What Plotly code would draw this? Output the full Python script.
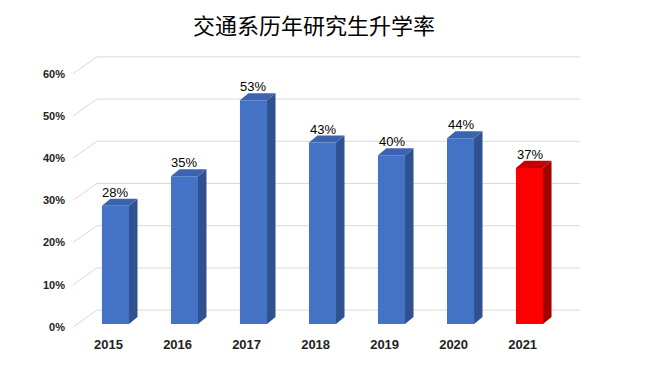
import plotly.graph_objects as go

# ---- data ----
years = ["2015", "2016", "2017", "2018", "2019", "2020", "2021"]
rates = [28, 35, 53, 43, 40, 44, 37]
y_ticks = [0, 10, 20, 30, 40, 50, 60]
y_tick_text = ["0%", "10%", "20%", "30%", "40%", "50%", "60%"]
title_text = "交通系历年研究生升学率"

# ---- styles ----
front_colors = ["#4472C4"] * 6 + ["#FF0000"]
side_colors = ["#2F5190"] * 6 + ["#A30000"]
top_colors = ["#3C64AE"] * 6 + ["#C40000"]

HALF_W = 0.196      # half width of front face (x units)
DEPTH_X = 0.123     # bar depth offset (x units)
DEPTH_Y = 1.66      # bar depth offset (y units)
WALL_X0 = -0.616
WALL_DX = 0.348
WALL_DY = 4.0
WALL_X1 = 6.73
TICK_SHIFT = -0.7
X_RANGE = [-0.659, 6.804]
Y_RANGE = [-2.6, 67.3]

fig = go.Figure()

# back wall gridlines
gx, gy = [], []
for v in y_ticks:
    yf = v + TICK_SHIFT
    gx += [WALL_X0, WALL_X0 + WALL_DX, WALL_X1, None]
    gy += [yf, yf + WALL_DY, yf + WALL_DY, None]
fig.add_trace(go.Scatter(x=gx, y=gy, mode="lines",
                         line=dict(color="#D9D9D9", width=1),
                         hoverinfo="skip"))

xs = list(range(len(years)))


def face(px, py, color):
    fig.add_trace(go.Scatter(x=px, y=py, fill="toself", fillcolor=color, mode="lines",
                             line=dict(width=0, color=color), hoverinfo="skip"))


for i, v in enumerate(rates):
    r = i + HALF_W
    l = i - HALF_W
    # side face
    face([r, r + DEPTH_X, r + DEPTH_X, r, r], [0, DEPTH_Y, v + DEPTH_Y, v, 0], side_colors[i])
    # top face
    face([l, l + DEPTH_X, r + DEPTH_X, r, l], [v, v + DEPTH_Y, v + DEPTH_Y, v, v], top_colors[i])
    # front face
    face([l, r, r, l, l], [0, 0, v, v, 0], front_colors[i])

# value labels
for i, v in enumerate(rates):
    fig.add_annotation(x=i, y=v + DEPTH_Y, text=f"{v}%", showarrow=False,
                       yanchor="bottom", yshift=-3,
                       font=dict(family="Liberation Sans", size=13, color="#000000"))

# title
fig.add_annotation(x=(314 - 70) / 515, y=(335 - 24) / 295, xref="paper", yref="paper",
                   text=title_text, showarrow=False, xanchor="center", yanchor="middle",
                   font=dict(family="Noto Sans CJK SC", size=22, color="#000000"))

fig.update_layout(
    width=650, height=380,
    margin=dict(l=62, r=73, t=32, b=53),
    paper_bgcolor="white", plot_bgcolor="white",
    showlegend=False,
    xaxis=dict(range=X_RANGE, tickvals=[x - 0.1 for x in xs], ticktext=years,
               showgrid=False, zeroline=False, showline=False, ticks="",
               tickfont=dict(family="Liberation Sans", size=13, color="#222222", weight="bold")),
    yaxis=dict(range=Y_RANGE, tickvals=[v + TICK_SHIFT for v in y_ticks], ticktext=y_tick_text,
               showgrid=False, zeroline=False, showline=False, ticks="",
               ticklabelstandoff=4,
               tickfont=dict(family="Liberation Sans", size=11, color="#222222", weight="bold")),
)

fig.write_html("out.html")
